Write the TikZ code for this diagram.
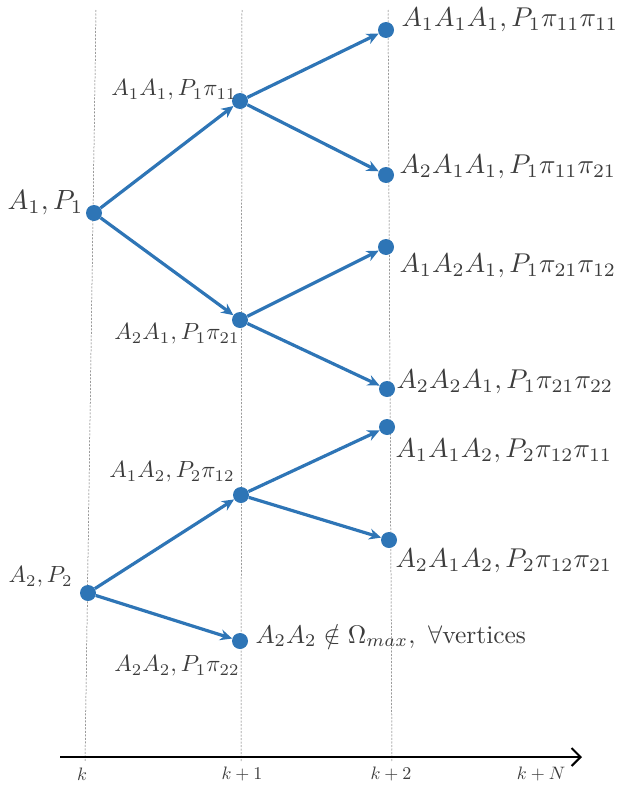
\documentclass[tikz,border=0pt]{standalone}
\usepackage{amssymb}
\usetikzlibrary{arrows.meta}
\definecolor{treeblue}{RGB}{46,117,182}
\definecolor{txt}{RGB}{60,60,60}
\begin{document}
\begin{tikzpicture}[x=1pt,y=-1pt,
  dot/.style={circle,fill=treeblue,inner sep=0pt,minimum size=16pt},
  branch/.style={draw=treeblue,line width=3.2pt,-{Stealth[length=12pt,width=11pt]}},
  guide/.style={draw=black!60,line width=0.5pt,dash pattern=on 2pt off 1.5pt},
  biglab/.style={inner sep=0pt,text=txt,scale=2.72},
  midlab/.style={inner sep=0pt,text=txt,scale=2.34},
  axlab/.style={inner sep=0pt,text=txt,scale=1.8}]
\useasboundingbox (0,0) rectangle (631,787);
% guide lines
\coordinate (g0t) at (96,10);  \coordinate (g0b) at (85,762);
\coordinate (g1t) at (242,10); \coordinate (g1b) at (241,762);
\coordinate (g2t) at (388,10); \coordinate (g2b) at (392,762);
\draw[guide] (g0t) -- (g0b);
\draw[guide] (g1t) -- (g1b);
\draw[guide] (g2t) -- (g2b);
% axis
\coordinate (axs) at (60,757); \coordinate (axe) at (582,757);
\draw[line width=2pt,-{Straight Barb[length=9pt,width=18pt,line width=2pt]}] (axs) -- (axe);
\node[axlab] (tk) at (82,774) {$k$};
\node[axlab] (tk1) at (242,774) {$k+1$};
\node[axlab] (tk2) at (391,774) {$k+2$};
\node[axlab] (tkN) at (541,774) {$k+N$};
% dots
\node[dot] (r1) at (94,213) {};
\node[dot] (a11) at (240,101) {};
\node[dot] (a21) at (240,320) {};
\node[dot] (l1) at (386,30) {};
\node[dot] (l2) at (386,175) {};
\node[dot] (l3) at (386,247) {};
\node[dot] (l4) at (387,389) {};
\node[dot] (l5) at (387,427) {};
\node[dot] (l6) at (389,540) {};
\node[dot] (r2) at (88,593) {};
\node[dot] (a12) at (241,495) {};
\node[dot] (a22) at (240,641) {};
% edges
\draw[branch] (r1) -- (a11);
\draw[branch] (r1) -- (a21);
\draw[branch] (a11) -- (l1);
\draw[branch] (a11) -- (l2);
\draw[branch] (a21) -- (l3);
\draw[branch] (a21) -- (l4);
\draw[branch] (r2) -- (a12);
\draw[branch] (r2) -- (a22);
\draw[branch] (a12) -- (l5);
\draw[branch] (a12) -- (l6);
% labels
\node[biglab,scale=1.02,anchor=east] (tr1) at (84,203) {$A_1,P_1$};
\node[midlab,anchor=east] (ta11) at (237,90) {$A_1A_1,P_1\pi_{11}$};
\node[midlab,anchor=east] (ta21) at (240,334) {$A_2A_1,P_1\pi_{21}$};
\node[biglab,anchor=west] (tl1) at (401,20) {$A_1A_1A_1,P_1\pi_{11}\pi_{11}$};
\node[biglab,anchor=west] (tl2) at (399,167) {$A_2A_1A_1,P_1\pi_{11}\pi_{21}$};
\node[biglab,anchor=west] (tl3) at (399,266) {$A_1A_2A_1,P_1\pi_{21}\pi_{12}$};
\node[biglab,anchor=west] (tl4) at (396,382) {$A_2A_2A_1,P_1\pi_{21}\pi_{22}$};
\node[biglab,anchor=west] (tl5) at (395,451) {$A_1A_1A_2,P_2\pi_{12}\pi_{11}$};
\node[biglab,anchor=west] (tl6) at (395,561) {$A_2A_1A_2,P_2\pi_{12}\pi_{21}$};
\node[midlab,anchor=east] (ta12) at (235,472) {$A_1A_2,P_2\pi_{12}$};
\node[midlab,anchor=east] (tr2) at (73,577) {$A_2,P_2$};
\node[midlab,anchor=east] (ta22) at (240,666) {$A_2A_2,P_1\pi_{22}$};
\node[midlab,scale=1.09,anchor=west] (tom) at (255,636) {$A_2A_2\notin\Omega_{max},\ \forall\mbox{vertices}$};
\end{tikzpicture}
\end{document}
